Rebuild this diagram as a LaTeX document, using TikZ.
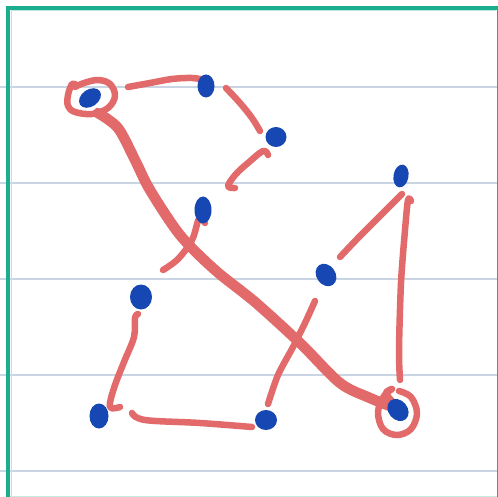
\documentclass[tikz,border=0pt]{standalone}
\usetikzlibrary{shapes.geometric}
\definecolor{teal}{HTML}{1BAE8E}
\definecolor{grid}{HTML}{C9D5E2}
\definecolor{ink}{HTML}{1747B3}
\definecolor{pen}{HTML}{E26A6A}
\tikzset{
  gridline/.style={grid, line width=2pt},
  dot/.style={ellipse, fill=ink, draw=none, inner sep=0pt},
  pstroke/.style={pen, line width=6.5pt, line cap=round, line join=round},
  heavy/.style={pen, line width=10.5pt, line cap=round, line join=round},
}
\begin{document}
\begin{tikzpicture}[x=1pt,y=-1pt]
\useasboundingbox (0,0) rectangle (498,497);
\fill[white] (0,0) rectangle (498,497);
% notebook lines
\foreach \yy in {87,183,279,375,471} \draw[gridline] (0,\yy) -- (497,\yy);
% frame
\draw[teal!25, line width=1pt] (10,496) -- (497,496);
\draw[teal!30, line width=1pt] (11,11) -- (496,11);
\draw[teal!30, line width=1pt] (11,11) -- (11,496);
\draw[teal, line width=1pt] (497,8) -- (497,497);
\draw[teal, line width=4pt] (6,8) -- (498,8);
\draw[teal, line width=4pt] (8,6) -- (8,497);
% red strokes
\draw[pstroke] plot[smooth, tension=0.6] coordinates {(76,85) (72,84) (68,95) (68,106) (75,112) (92,114) (108,108) (115,96) (110,84) (98,80) (84,83) (75,87)};
\draw[pstroke] plot[smooth, tension=0.6] coordinates {(128,87) (150,83) (172,79) (192,78) (205,80)};
\draw[pstroke] plot[smooth, tension=0.6] coordinates {(226,88) (240,103) (252,118) (260,131)};
\draw[pstroke] plot[smooth, tension=0.6] coordinates {(268,155) (263,151) (248,163) (236,174) (228,186) (235,188)};
\draw[heavy] plot[smooth, tension=0.5] coordinates {(98,113) (118,128) (135,160) (150,190) (180,235) (215,270) (255,302) (300,343) (340,383) (370,398) (390,406)};
\draw[pstroke] plot[smooth, tension=0.6] coordinates {(392,401) (386,393) (392,389) (384,396) (378,412) (383,429) (397,435) (411,429) (417,413) (411,397) (399,391)};
\draw[pstroke] plot[smooth, tension=0.5] coordinates {(400,380) (399,350) (401,283) (405,230) (408,200) (411,201)};
\draw[pstroke] plot[smooth, tension=0.6] coordinates {(402,194) (382,214) (360,236) (340,257)};
\draw[pstroke] plot[smooth, tension=0.5] coordinates {(315,301) (305,323) (293,347) (278,375) (268,404)};
\draw[pstroke] plot[smooth, tension=0.6] coordinates {(205,223) (199,219) (192,240) (178,259) (163,270)};
\draw[pstroke] plot[smooth, tension=0.6] coordinates {(138,314) (135,318) (134,337) (124,362) (114,388) (110,407) (120,407)};
\draw[pstroke] plot[smooth, tension=0.6] coordinates {(132,413) (145,420) (200,423) (252,427)};
% blue dots
\node[dot, minimum width=24pt, minimum height=17pt, rotate=35] (d1) at (90,98) {};
\node[dot, minimum width=17pt, minimum height=23pt] (d2) at (206,86) {};
\node[dot, minimum width=21pt, minimum height=20pt] (d3) at (276,137) {};
\node[dot, minimum width=17pt, minimum height=27pt] (d4) at (203,210) {};
\node[dot, minimum width=15pt, minimum height=23pt, rotate=-10] (d5) at (401,176) {};
\node[dot, minimum width=19pt, minimum height=24pt, rotate=35] (d6) at (326,275) {};
\node[dot, minimum width=22pt, minimum height=25pt] (d7) at (141,297) {};
\node[dot, minimum width=19pt, minimum height=25pt] (d8) at (99,416) {};
\node[dot, minimum width=22pt, minimum height=20pt] (d9) at (266,420) {};
\node[dot, minimum width=19pt, minimum height=24pt, rotate=40] (d10) at (398,410) {};
\end{tikzpicture}
\end{document}
